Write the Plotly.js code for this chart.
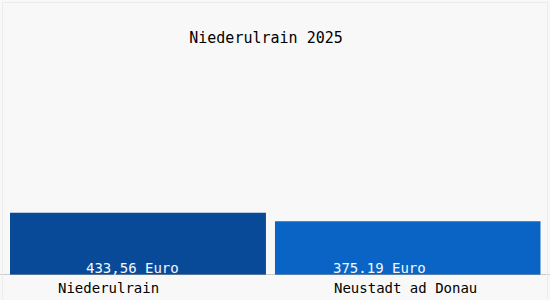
<!DOCTYPE html>
<html>
<head>
<meta charset="utf-8">
<script src="https://cdn.plot.ly/plotly-3.0.1.min.js"></script>
<style>
html,body{margin:0;padding:0;background:#f8f8f8;}
#wrap{position:relative;width:550px;height:300px;}
#chart{width:550px;height:300px;}
#frame{position:absolute;left:2px;top:2px;width:544px;height:296px;border:1px solid #ececec;border-bottom:none;pointer-events:none;}
</style>
</head>
<body>
<div id="wrap"><div id="chart"></div><div id="frame"></div></div>
<script>
const titleText = "Niederulrain 2025";
const categories = ["Niederulrain", "Neustadt ad Donau"];
const values = [433.56, 375.19];
const valueLabels = ["433,56 Euro", "375.19 Euro"];
const barColors = ["#084a98", "#0a64c6"];

const mono = "DejaVu Sans Mono, Liberation Mono, monospace";

const trace = {
  type: "bar",
  x: categories,
  y: values,
  marker: {color: barColors, line: {width: 0}},
  width: [0.964, 1.0],
  offset: [-0.5, -0.502],
  hoverinfo: "none"
};

const valueShift = [-10.75, -29];
const labelShift = [-34.75, -3.25];

const annotations = [];
categories.forEach((c, i) => {
  annotations.push({
    x: c, y: 0, xref: "x", yref: "y",
    text: valueLabels[i], showarrow: false,
    xanchor: "center", yanchor: "middle",
    xshift: valueShift[i], yshift: 7,
    font: {family: mono, size: 14, color: "#f4f8ff"}
  });
  annotations.push({
    x: c, y: 0, xref: "x", yref: "y",
    text: categories[i], showarrow: false,
    xanchor: "center", yanchor: "middle",
    xshift: labelShift[i], yshift: -13,
    font: {family: mono, size: 14, color: "#000000"}
  });
});

const layout = {
  width: 550, height: 300,
  margin: {l: 10, r: 9, t: 60, b: 25, pad: 0},
  paper_bgcolor: "#f8f8f8",
  plot_bgcolor: "#f8f8f8",
  showlegend: false,
  title: {
    text: titleText,
    font: {family: mono, size: 15, color: "#000000"},
    x: 266/550, xref: "container", xanchor: "center",
    y: 1 - 38/300, yref: "container", yanchor: "middle"
  },
  xaxis: {
    type: "category",
    range: [-0.5, 1.5],
    showticklabels: false, showgrid: false, zeroline: false, showline: false, ticks: ""
  },
  yaxis: {
    range: [0, 1500],
    showticklabels: false, showgrid: false, zeroline: false, showline: false, ticks: ""
  },
  shapes: [{
    type: "line", xref: "paper", yref: "y",
    x0: -10/531, x1: 1 + 9/531, y0: 0, y1: 0,
    line: {color: "#a0a0a0", width: 1}
  }],
  annotations: annotations
};

Plotly.newPlot("chart", [trace], layout, {staticPlot: true, displayModeBar: false});
</script>
</body>
</html>
